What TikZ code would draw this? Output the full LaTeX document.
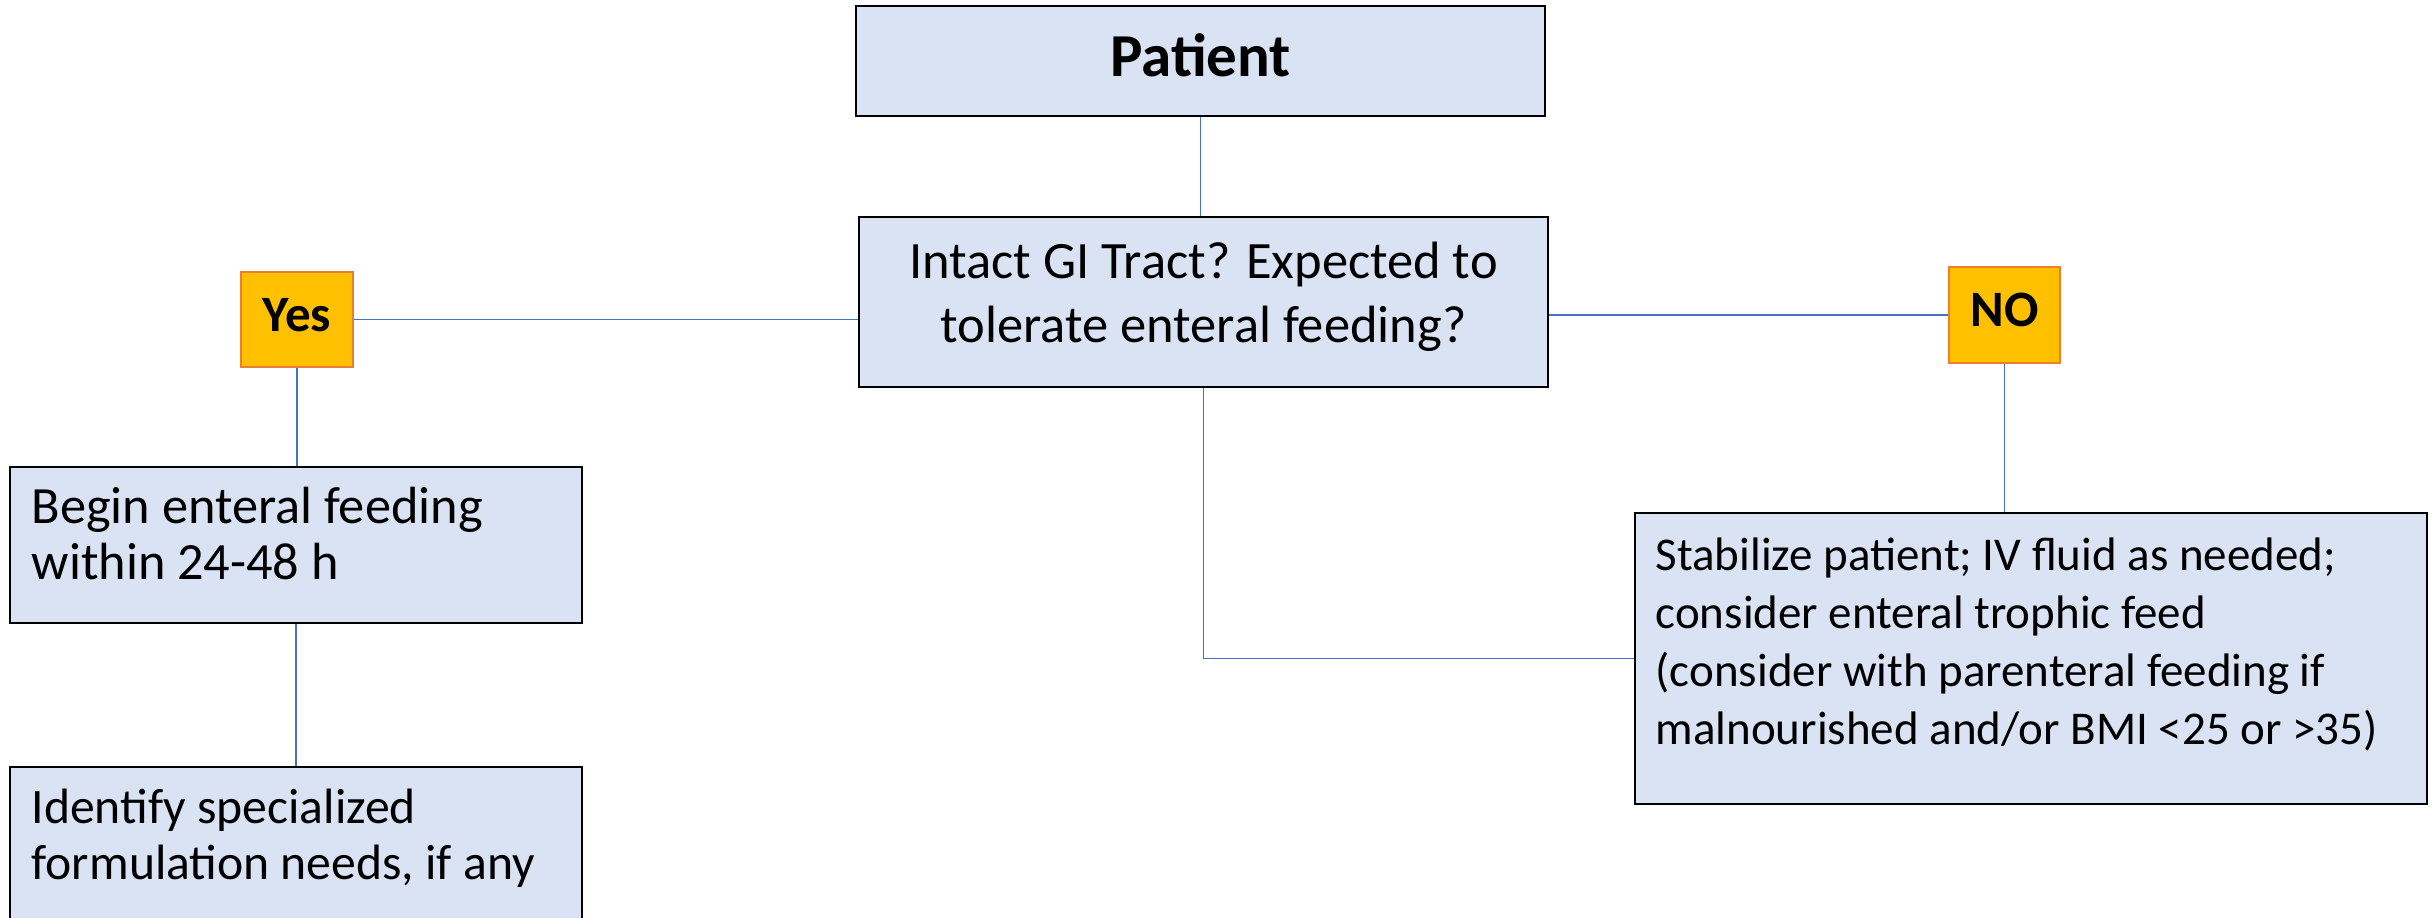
\documentclass[tikz,border=0pt]{standalone}
\usepackage{fontspec}
\setmainfont{Carlito}
\definecolor{boxfill}{HTML}{DAE3F3}
\definecolor{tagfill}{HTML}{FFC000}
\definecolor{tagline}{HTML}{ED7D31}
\definecolor{conn}{HTML}{4472C4}
\tikzset{
  stepbox/.style={draw=black, line width=0.8pt, fill=boxfill, rectangle, inner sep=0pt},
  tagbox/.style={draw=tagline, line width=0.7pt, fill=tagfill, rectangle, inner sep=0pt},
  txtl/.style={inner sep=0pt, anchor=base west, text=black},
  txtc/.style={inner sep=0pt, anchor=base, text=black},
  conline/.style={draw=conn, line width=0.4pt},
}
\begin{document}
\begin{tikzpicture}[x=0.3pt,y=-0.3pt]
\clip (0,0) rectangle (2435,917);
\fill[white] (0,0) rectangle (2435,917);

% boxes
\node[stepbox, minimum width=206.7pt, minimum height=33pt] (patient) at (1200.5,61) {};
\node[stepbox, minimum width=206.7pt, minimum height=51pt] (intact) at (1203.5,302) {};
\node[tagbox, minimum width=33.6pt, minimum height=28.5pt] (yes) at (297,319.5) {};
\node[tagbox, minimum width=33.3pt, minimum height=28.8pt] (no) at (2004.5,315) {};
\node[stepbox, minimum width=171.6pt, minimum height=46.8pt] (begin) at (296,545) {};
\node[stepbox, minimum width=171.6pt, minimum height=60.9pt] (identify) at (296,868.5) {};
\node[stepbox, minimum width=237.6pt, minimum height=87.3pt] (stab) at (2031,658.5) {};

% texts
\node[txtc] (patientT) at (1200.5,76) {\fontsize{18.3pt}{22pt}\selectfont\bfseries Patient};
\node[txtc] (yesT) at (297,331) {\fontsize{15.3pt}{18pt}\selectfont\bfseries Yes};
\node[txtc] (noT) at (2004.5,326) {\fontsize{15.3pt}{18pt}\selectfont\bfseries NO};
\node[txtc] (intactT) at (1203.5,278) {\parbox[t]{210pt}{\centering\fontsize{15.75pt}{19.2pt}\selectfont Intact GI Tract? Expected to\\tolerate enteral feeding?}};
\node[txtl] (beginT) at (31,523) {\parbox[t]{165pt}{\raggedright\fontsize{15.7pt}{17pt}\selectfont Begin enteral feeding\\within 24-48 h}};
\node[txtl] (identifyT) at (31,823) {\parbox[t]{165pt}{\raggedright\fontsize{14.9pt}{16.8pt}\selectfont Identify specialized\\formulation needs, if any}};
\node[txtl] (stabT) at (1655,570) {\parbox[t]{240pt}{\raggedright\fontsize{14.1pt}{17.4pt}\selectfont Stabilize patient; IV fluid as needed;\\consider enteral trophic feed\\(consider with parenteral feeding if\\malnourished and/or BMI <25 or >35)}};

% connectors
\draw[conline] (patient.south) -- (patient.south |- intact.north);
\draw[conline] (yes.east) -- (yes.east -| intact.west);
\draw[conline] (intact.east |- no.west) -- (no.west);
\draw[conline] (no.south) -- (no.south |- stab.north);
\draw[conline] (yes.south) -- (yes.south |- begin.north);
\draw[conline] (begin.south) -- (identify.north);
\draw[conline] (intact.south) |- (stab.west);
\end{tikzpicture}
\end{document}
